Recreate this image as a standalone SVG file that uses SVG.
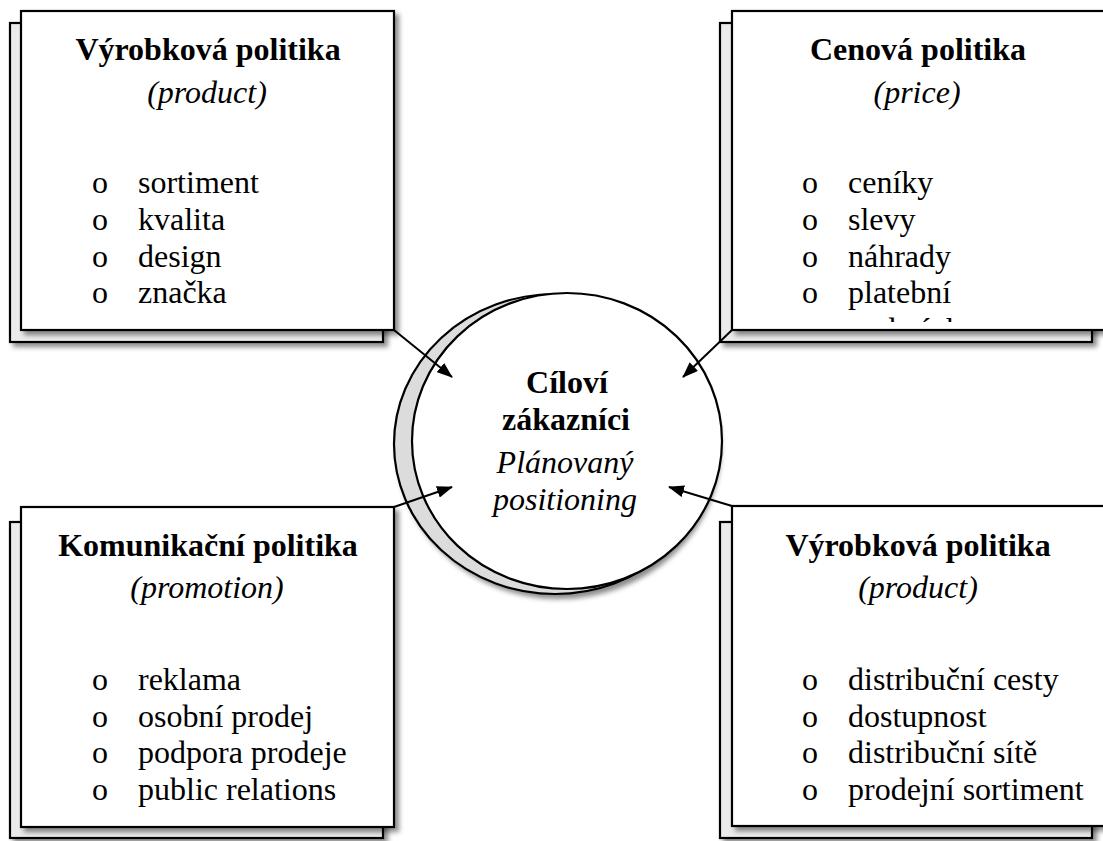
<svg xmlns="http://www.w3.org/2000/svg" width="1103" height="841" viewBox="0 0 1103 841">
<style>
.back{fill:#ebebeb;stroke:#000;stroke-width:2.2}
.front{fill:#fff;stroke:#000;stroke-width:2.2}
text{font-family:"Liberation Serif","Times New Roman",serif;font-size:32px;fill:#000}
.t{font-weight:bold;text-anchor:middle}
.s{font-style:italic;text-anchor:middle}
.c{text-anchor:middle}
.con{stroke:#000;stroke-width:2;fill:none;marker-end:url(#ah)}
</style>
<defs>
<filter id="sh" x="-10%" y="-10%" width="130%" height="130%">
<feDropShadow dx="4" dy="4" stdDeviation="2.5" flood-color="#000" flood-opacity="0.45"/>
</filter>
<marker id="ah" markerWidth="16" markerHeight="12" refX="15" refY="6" orient="auto" markerUnits="userSpaceOnUse">
<path d="M0,0 L16,6 L0,12 Z" fill="#000"/>
</marker>
<clipPath id="clipTR"><rect x="732" y="11" width="371" height="311"/></clipPath>
</defs>
<rect width="1103" height="841" fill="#fff"/>

<g id="node-product-top">
<rect class="back" x="10" y="23" width="373" height="319" filter="url(#sh)"/>
<rect class="front" x="21" y="11" width="373" height="319" filter="url(#sh)"/>
<text class="t" x="208" y="60">Výrobková politika</text>
<text class="s" x="207" y="103">(product)</text>
<text x="92" y="193">o</text><text x="138" y="193">sortiment</text>
<text x="92" y="230">o</text><text x="138" y="230">kvalita</text>
<text x="92" y="267">o</text><text x="138" y="267">design</text>
<text x="92" y="303">o</text><text x="138" y="303">značka</text>
</g>

<g id="node-price">
<rect class="back" x="720" y="23" width="372" height="319" filter="url(#sh)"/>
<rect class="front" x="732" y="11" width="373" height="319" filter="url(#sh)"/>
<text class="t" x="918" y="60">Cenová politika</text>
<text class="s" x="917" y="103">(price)</text>
<text x="802" y="193">o</text><text x="848" y="193">ceníky</text>
<text x="802" y="230">o</text><text x="848" y="230">slevy</text>
<text x="802" y="267">o</text><text x="848" y="267">náhrady</text>
<text x="802" y="303">o</text><text x="848" y="303">platební</text>
<text x="848" y="340" clip-path="url(#clipTR)">podmínky</text>
</g>

<g id="node-promotion">
<rect class="back" x="10" y="522" width="373" height="316" filter="url(#sh)"/>
<rect class="front" x="21" y="507" width="373" height="320" filter="url(#sh)"/>
<text class="t" x="208" y="556">Komunikační politika</text>
<text class="s" x="207" y="598">(promotion)</text>
<text x="92" y="690">o</text><text x="138" y="690">reklama</text>
<text x="92" y="727">o</text><text x="138" y="727">osobní prodej</text>
<text x="92" y="763">o</text><text x="138" y="763">podpora prodeje</text>
<text x="92" y="800">o</text><text x="138" y="800">public relations</text>
</g>

<g id="node-product-bottom">
<rect class="back" x="720" y="522" width="372" height="316" filter="url(#sh)"/>
<rect class="front" x="732" y="506" width="373" height="320" filter="url(#sh)"/>
<text class="t" x="918" y="556">Výrobková politika</text>
<text class="s" x="918" y="598">(product)</text>
<text x="802" y="690">o</text><text x="848" y="690">distribuční cesty</text>
<text x="802" y="727">o</text><text x="848" y="727">dostupnost</text>
<text x="802" y="763">o</text><text x="848" y="763">distribuční sítě</text>
<text x="802" y="800">o</text><text x="848" y="800">prodejní sortiment</text>
</g>

<g id="node-center">
<ellipse cx="555" cy="444" rx="161" ry="150" fill="#dcdcdc" stroke="#000" stroke-width="2.2" filter="url(#sh)"/>
<ellipse cx="567" cy="441" rx="155" ry="148" fill="#fff" stroke="#000" stroke-width="2.2"/>
<text class="t" x="567" y="393">Cíloví</text>
<text class="t" x="566" y="430">zákazníci</text>
<text class="s" x="565" y="473">Plánovaný</text>
<text class="s" x="565" y="510">positioning</text>
</g>

<g id="connectors">
<path class="con" d="M394,330 L452,377"/>
<path class="con" d="M732,330 L683,377"/>
<path class="con" d="M394,507 L452,487"/>
<path class="con" d="M732,506 L669,487"/>
</g>
</svg>
